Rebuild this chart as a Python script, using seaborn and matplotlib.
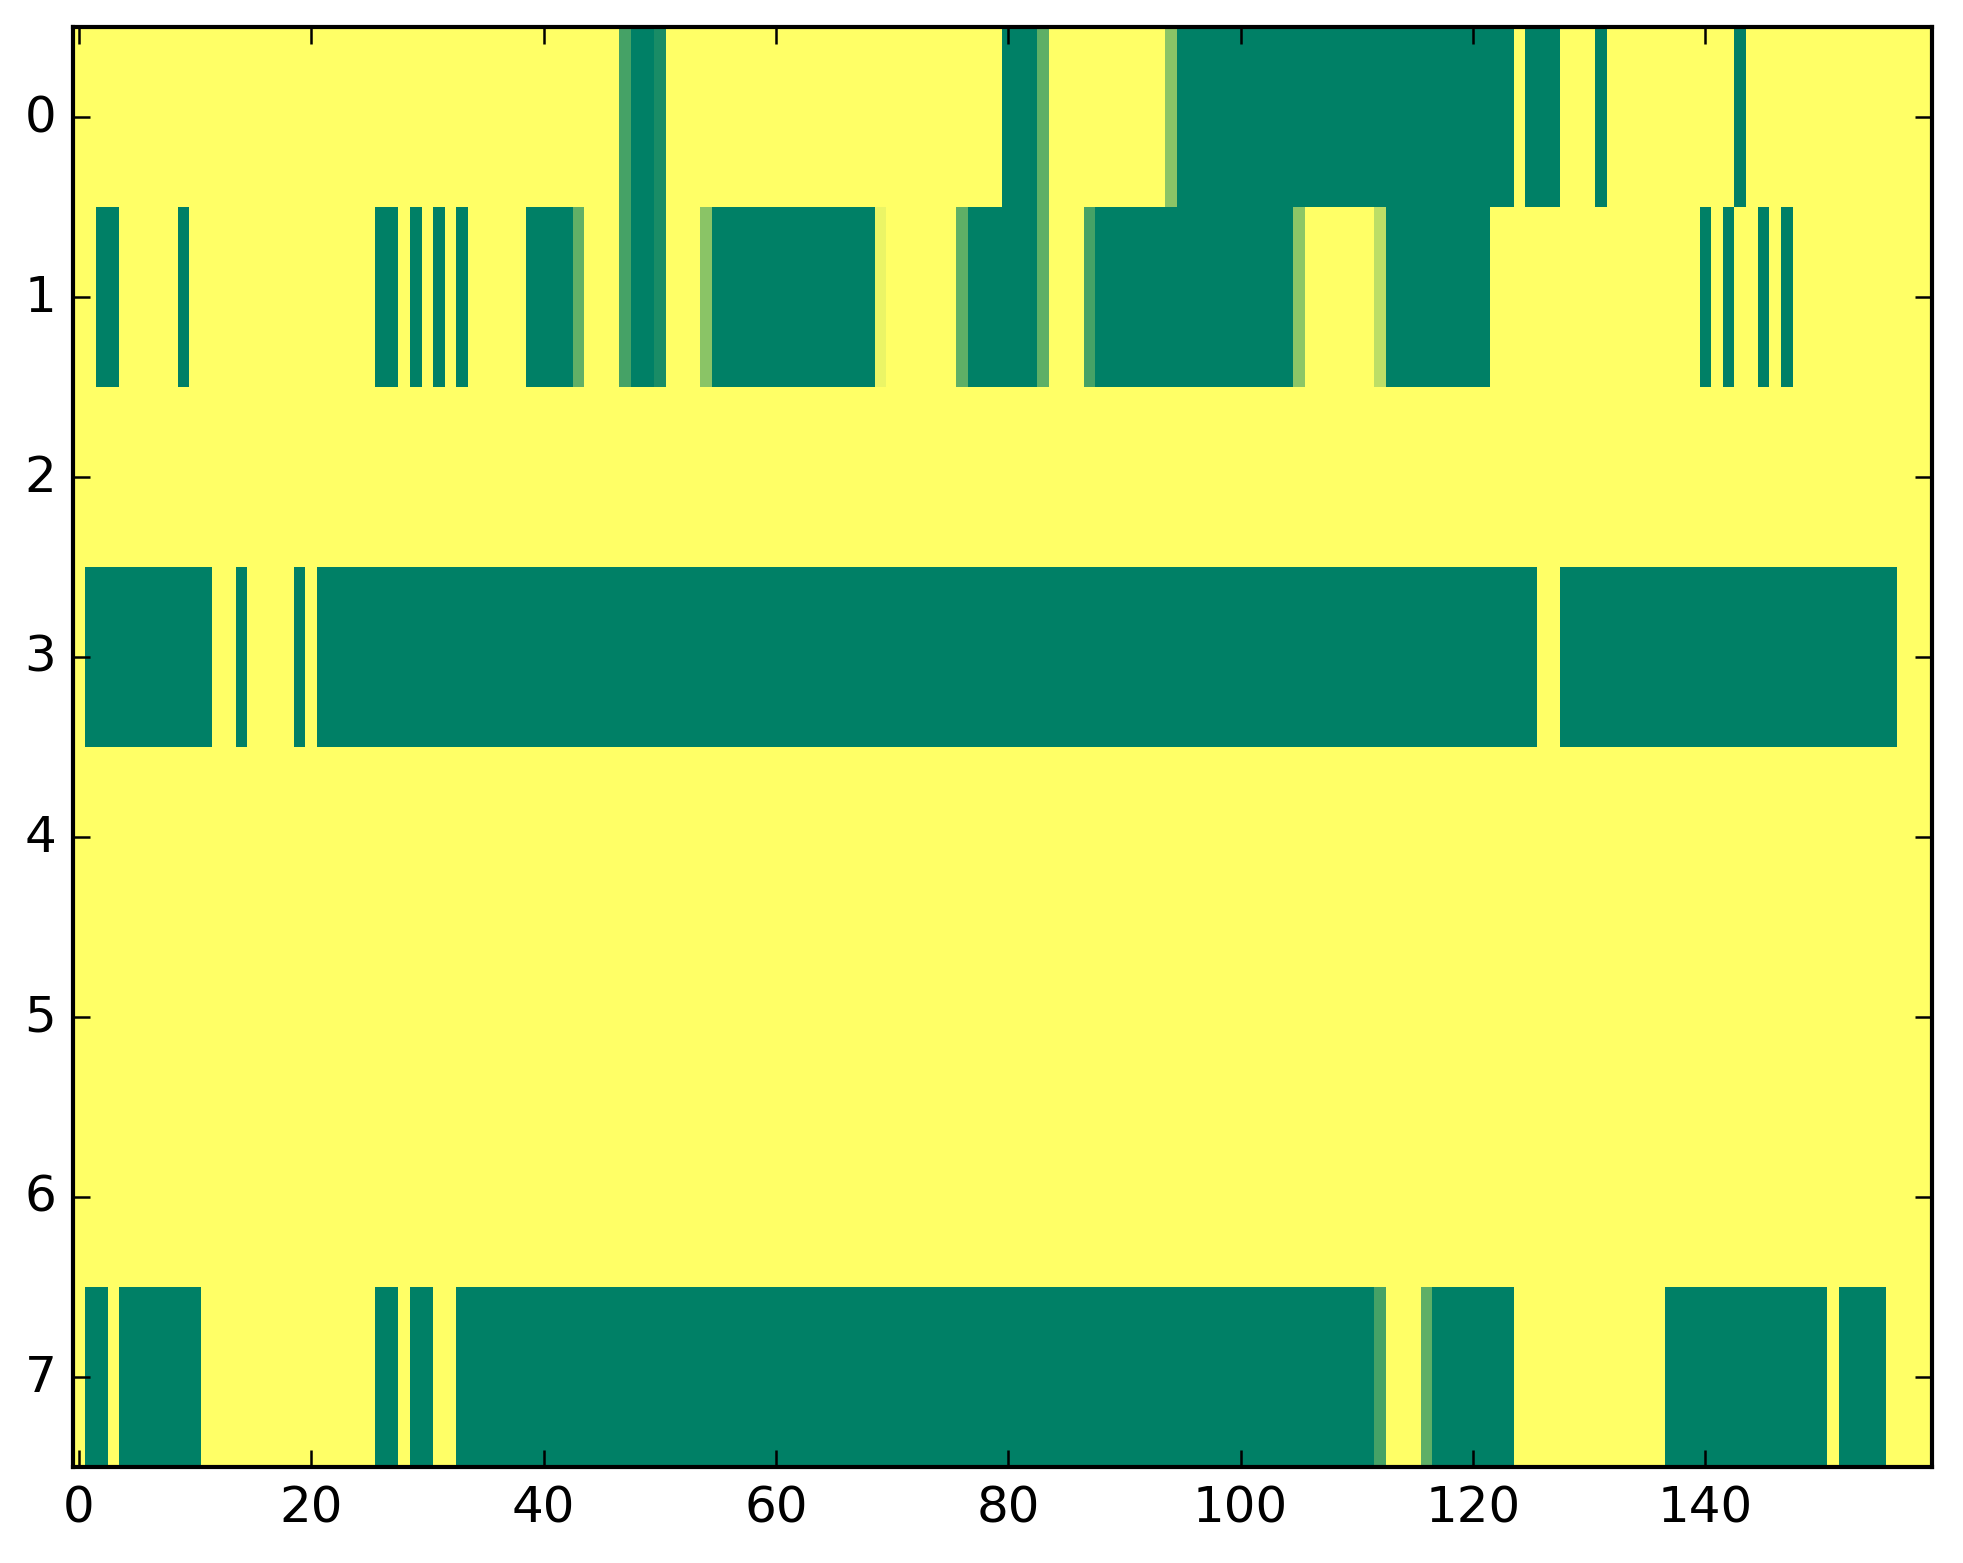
import numpy as np
import matplotlib
matplotlib.use("Agg")
import matplotlib.pyplot as plt
import seaborn as sns

# matrix size
n_rows = 8
n_cols = 160

# runs of zero-valued (green) cells per row, inclusive (start, end)
row0_zero = [(48, 49), (80, 82), (95, 123), (125, 127), (131, 131), (143, 143)]
row0_part = {47: 0.27, 50: 0.10, 83: 0.37, 94: 0.54}

row1_zero = [(2, 3), (9, 9), (26, 27), (29, 29), (31, 31), (33, 33), (39, 42),
             (48, 49), (55, 68), (77, 82), (88, 104), (113, 121), (140, 140),
             (142, 142), (145, 145), (147, 147)]
row1_part = {43: 0.38, 47: 0.27, 50: 0.10, 54: 0.54, 69: 0.92, 76: 0.37,
             83: 0.37, 87: 0.27, 105: 0.55, 112: 0.74}

row3_zero = [(1, 11), (14, 14), (19, 19), (21, 125), (128, 156)]
row3_part = {}

row7_zero = [(1, 2), (4, 10), (26, 27), (29, 30), (33, 111), (117, 123),
             (137, 150), (152, 155)]
row7_part = {112: 0.27, 116: 0.37}

xtick_vals = [0, 20, 40, 60, 80, 100, 120, 140]
ytick_vals = [0, 1, 2, 3, 4, 5, 6, 7]

# build the matrix (1 = yellow background)
mat = np.ones((n_rows, n_cols))
for r, zeros, part in [(0, row0_zero, row0_part), (1, row1_zero, row1_part),
                       (3, row3_zero, row3_part), (7, row7_zero, row7_part)]:
    for a, b in zeros:
        mat[r, a:b + 1] = 0.0
    for c, v in part.items():
        mat[r, c] = v

plt.rcParams['font.family'] = ['DejaVu Sans']
dpi = 300
W, H = 1963, 1564
fig = plt.figure(figsize=(W / dpi, H / dpi), dpi=dpi, facecolor='white')
# axes box in pixels: left 73, right 1932, top 28, bottom 1468
ax = fig.add_axes([73 / W, 1 - 1468 / H, (1932 - 73) / W, (1468 - 28) / H])

sns.heatmap(mat, cmap='summer', vmin=0, vmax=1, cbar=False, ax=ax,
            linewidths=0, rasterized=True)

ax.set_xticks(np.array(xtick_vals) + 0.5)
ax.set_xticklabels([str(v) for v in xtick_vals], rotation=0)
ax.set_yticks(np.array(ytick_vals) + 0.5)
ax.set_yticklabels([str(v) for v in ytick_vals], rotation=0)
ax.set_xlim(0, n_cols)
ax.set_ylim(n_rows, 0)

for s in ax.spines.values():
    s.set_visible(True)
    s.set_linewidth(1.0)
    s.set_color('black')

ax.tick_params(axis='both', direction='in', length=4, width=0.6,
               top=True, right=True, labelsize=12, pad=4, color='black')
ax.set_xlabel("")
ax.set_ylabel("")

fig.savefig("out.png", dpi=dpi, facecolor='white')
